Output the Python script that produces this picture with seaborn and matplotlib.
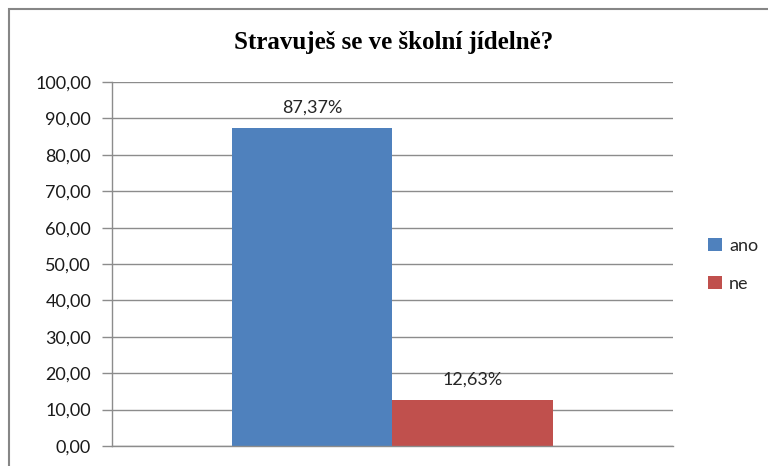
import matplotlib
matplotlib.use("Agg")
import matplotlib.pyplot as plt
import seaborn as sns
import pandas as pd
from matplotlib.patches import Rectangle
from matplotlib.ticker import FuncFormatter, MultipleLocator

# data
odpovedi = ["ano", "ne"]
procenta = [87.37, 12.63]
barvy = ["#4F81BD", "#C0504D"]
titulek = "Stravuješ se ve školní jídelně?"

sns.set_theme(style="white")
plt.rcParams["font.family"] = ["Lato", "DejaVu Sans"]

df = pd.DataFrame({"otazka": [""] * len(odpovedi), "odpoved": odpovedi, "procenta": procenta})

fig = plt.figure(figsize=(7.68, 4.66), dpi=100)
ax = fig.add_axes([0.1458, 0.0429, 0.7305, 0.781])
sns.barplot(data=df, x="otazka", y="procenta", hue="odpoved", palette=barvy,
            width=0.572, saturation=1, linewidth=0, ax=ax)

# value labels above bars
for cont in ax.containers:
    ax.bar_label(cont, labels=[f"{v:.2f}%".replace(".", ",") for v in cont.datavalues],
                 padding=9, fontsize=13, color="#262626")

ax.set_ylim(0, 100)
ax.yaxis.set_major_locator(MultipleLocator(10))
ax.yaxis.set_major_formatter(FuncFormatter(lambda v, p: f"{v:.2f}".replace(".", ",")))
ax.set_xticks([])
ax.set_xlabel("")
ax.set_ylabel("")
ax.yaxis.grid(True, color="#8c8c8c", lw=1)
ax.set_axisbelow(True)
ax.tick_params(axis="y", left=True, length=7, width=1, color="#8c8c8c",
               labelsize=13, labelcolor="#1a1a1a", pad=8)
for s in ["top", "right"]:
    ax.spines[s].set_visible(False)
for s in ["left", "bottom"]:
    ax.spines[s].set_color("#8c8c8c")
    ax.spines[s].set_linewidth(1)

# legend on the right
handles, labels = ax.get_legend_handles_labels()
ax.get_legend().remove()
fig.legend(handles, labels, loc="center left", bbox_to_anchor=(692 / 768, 1 - 265 / 466),
           frameon=False, handlelength=0.75, handleheight=0.75, handletextpad=0.4,
           labelspacing=1.2, fontsize=13)

fig.text(0.513, 1 - 42 / 466, titulek, ha="center", va="center", fontsize=18,
         fontweight="bold", family=["Liberation Serif", "DejaVu Serif"], color="black")

# chart frame (cut off on right and bottom in the original)
top = 1 - 9 / 466
fig.add_artist(Rectangle((9 / 768, -0.2), 1.2, top + 0.2, transform=fig.transFigure,
                         fill=False, edgecolor="#868686", lw=1.5))

fig.savefig("out.png", dpi=100)
